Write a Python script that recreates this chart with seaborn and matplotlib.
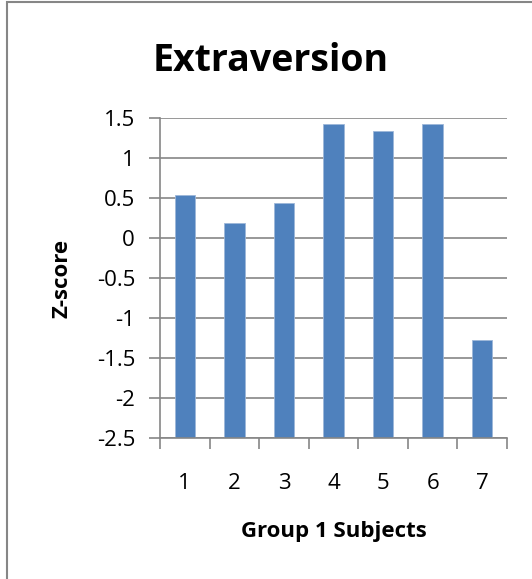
import matplotlib
matplotlib.use("Agg")
import matplotlib.pyplot as plt
import pandas as pd
import seaborn as sns
from matplotlib.patches import Rectangle

# data
subjects = ["1", "2", "3", "4", "5", "6", "7"]
z_scores = [0.54, 0.19, 0.44, 1.42, 1.34, 1.42, -1.28]
y_ticks = [-2.5, -2, -1.5, -1, -0.5, 0, 0.5, 1, 1.5]
y_tick_labels = ["-2.5", "-2", "-1.5", "-1", "-0.5", "0", "0.5", "1", "1.5"]

BAR = "#4F81BD"
GRID = "#868686"
Y_MIN, Y_MAX = -2.5, 1.5


def main():
    sns.set_theme(style="white")
    plt.rcParams["font.family"] = ["Open Sans", "DejaVu Sans"]
    plt.rcParams["text.color"] = "black"
    plt.rcParams["axes.labelcolor"] = "black"

    df = pd.DataFrame({"subject": subjects, "z": z_scores})

    fig = plt.figure(figsize=(5.32, 5.79), dpi=100)
    # plot area: x 160..507 px, y 118..438 px
    ax = fig.add_axes([160 / 532, 1 - 438 / 579, 347 / 532, 320 / 579])

    sns.barplot(data=df, x="subject", y="z", color=BAR, saturation=1,
                width=0.41, edgecolor="#9db7d9", linewidth=0.6, ax=ax)

    # Excel style: bars rise from the bottom of the value axis
    for patch, v in zip(ax.patches, z_scores):
        patch.set_y(Y_MIN)
        patch.set_height(v - Y_MIN)

    ax.set_ylim(Y_MIN, Y_MAX)
    ax.set_xlim(-0.5, len(subjects) - 0.5)
    ax.set_yticks(y_ticks)
    ax.set_yticklabels(y_tick_labels)
    ax.yaxis.grid(True, color=GRID, linewidth=1.2)
    ax.set_axisbelow(True)

    for side in ["top", "right"]:
        ax.spines[side].set_visible(False)
    for side in ["left", "bottom"]:
        ax.spines[side].set_color(GRID)
        ax.spines[side].set_linewidth(1.2)

    ax.tick_params(axis="y", which="major", left=True, length=8, width=1.2,
                   color=GRID, labelsize=16, pad=10, labelcolor="black")
    ax.tick_params(axis="x", which="major", bottom=False, length=0,
                   labelsize=16, pad=25, labelcolor="black")
    ax.set_xticks([i + 0.5 for i in range(-1, len(subjects))], minor=True)
    ax.tick_params(axis="x", which="minor", bottom=True, length=8, width=1.2,
                   color=GRID)

    ax.set_xlabel("Group 1 Subjects", fontsize=16, fontweight="bold")
    ax.set_ylabel("Z-score", fontsize=16, fontweight="bold")
    ax.xaxis.set_label_coords(0.5, (438 - 532) / 320)
    ax.xaxis.label.set_va("center")
    ax.yaxis.set_label_coords((62 - 160) / 347, 0.5)
    ax.yaxis.label.set_va("center")

    fig.text(271 / 532, 1 - 61 / 579, "Extraversion", fontsize=27,
             fontweight="bold", ha="center", va="center", color="black")

    # chart area border
    fig.patches.append(Rectangle((7 / 532, -0.01), 1.0, 1 - 2 / 579 + 0.01,
                                 transform=fig.transFigure, fill=False,
                                 edgecolor=GRID, linewidth=1.5))

    fig.savefig("out.png", dpi=100)
    plt.close(fig)


if __name__ == "__main__":
    main()
